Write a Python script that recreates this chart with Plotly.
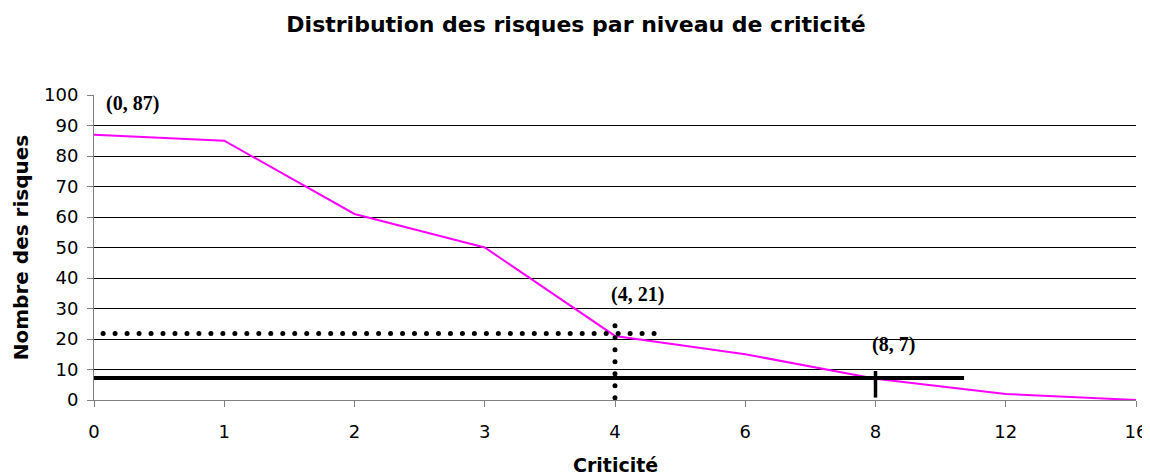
import numpy as np
import plotly.graph_objects as go

# Data
categories = ["0", "1", "2", "3", "4", "6", "8", "12", "16"]
nb_risques = [87, 85, 61, 50, 21, 15, 7, 2, 0]
y_ticks = [0, 10, 20, 30, 40, 50, 60, 70, 80, 90, 100]

# Reference lines (category index / value)
dotted_h = {"x0": 0.07, "x1": 4.38, "y": 21.8}
dotted_v = {"x": 4, "y0": 0.7, "y1": 28}
solid_h = {"x0": 0, "x1": 6.68, "y": 7.2}
solid_v = {"x": 6, "y0": 0.8, "y1": 9.5}

labels = [("(0, 87)", 0, 87, 38, 31), ("(4, 21)", 4, 21, 22, 41), ("(8, 7)", 6, 7, 18, 34)]

pos = list(range(len(categories)))

fig = go.Figure()
fig.add_trace(go.Scatter(x=pos, y=nb_risques, mode="lines",
                         line=dict(color="#FF00FF", width=2), showlegend=False,
                         hoverinfo="skip"))

# dotted horizontal line as round dots
hx = np.arange(dotted_h["x0"], dotted_h["x1"] + 1e-9, 12 / 130.5)
fig.add_trace(go.Scatter(x=hx, y=[dotted_h["y"]] * len(hx), mode="markers",
                         marker=dict(color="black", size=5), showlegend=False,
                         hoverinfo="skip"))
vy = np.arange(dotted_v["y0"], dotted_v["y1"] + 1e-9, 12 / 3.05)
fig.add_trace(go.Scatter(x=[dotted_v["x"]] * len(vy), y=vy, mode="markers",
                         marker=dict(color="black", size=5), showlegend=False,
                         hoverinfo="skip"))
# solid lines
fig.add_trace(go.Scatter(x=[solid_h["x0"], solid_h["x1"]], y=[solid_h["y"]] * 2,
                         mode="lines", line=dict(color="black", width=4),
                         showlegend=False, hoverinfo="skip"))
fig.add_trace(go.Scatter(x=[solid_v["x"]] * 2, y=[solid_v["y0"], solid_v["y1"]],
                         mode="lines", line=dict(color="black", width=3.5),
                         showlegend=False, hoverinfo="skip"))

for txt, lx, ly, xs, ys in labels:
    fig.add_annotation(x=lx, y=ly, text=f"<b>{txt}</b>", showarrow=False,
                       xshift=xs, yshift=ys,
                       font=dict(family="Liberation Serif", size=20, color="black"))

# x-axis title
fig.add_annotation(x=0.5, y=0, xref="paper", yref="paper", xanchor="center",
                   yanchor="middle", yshift=-65, showarrow=False,
                   text="<b>Criticité</b>",
                   font=dict(family="DejaVu Sans", size=19, color="black"))

fig.update_layout(
    width=1142, height=467,
    margin=dict(l=84, r=14, t=87, b=75),
    paper_bgcolor="white", plot_bgcolor="white",
    title=dict(text="<b>Distribution des risques par niveau de criticité</b>",
               x=(576 - 8) / 1142, xref="container", xanchor="center",
               y=1 - 16 / 467, yref="container", yanchor="middle",
               font=dict(family="DejaVu Sans", size=22, color="black")),
    font=dict(family="DejaVu Sans", color="black"),
)
fig.update_xaxes(range=[0, len(categories) - 1], tickvals=pos, ticktext=categories,
                 showgrid=False, zeroline=False, showline=True, linecolor="#808080",
                 linewidth=1, ticks="outside", ticklen=6, tickcolor="#808080",
                 tickfont=dict(size=18), ticklabelstandoff=9, automargin=False)
fig.update_yaxes(range=[0, 100], tickvals=y_ticks, showgrid=True, gridcolor="black",
                 gridwidth=1, zeroline=False, showline=True, linecolor="#808080",
                 linewidth=1, ticks="outside", ticklen=6, tickcolor="#808080",
                 tickfont=dict(size=18), ticklabelstandoff=5, automargin="width",
                 title=dict(text="<b>Nombre des risques</b>", font=dict(size=20), standoff=10))

fig.write_html("out.html")
